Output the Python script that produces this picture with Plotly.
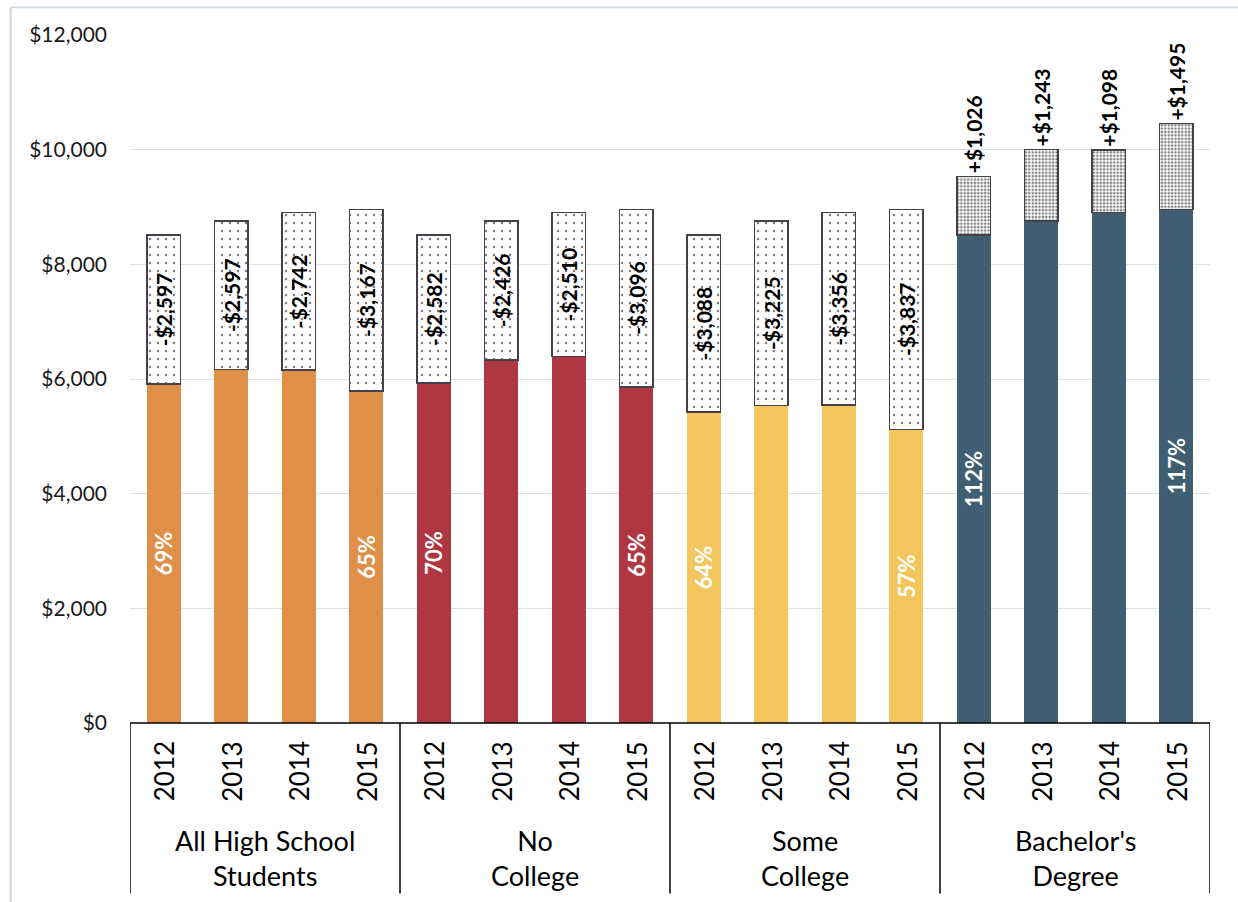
import plotly.graph_objects as go

groups = ["All High School<br>Students", "No<br>College", "Some<br>College", "Bachelor's<br>Degree"]
years = ["2012", "2013", "2014", "2015"]

# Reference mean quarterly earnings (top of the dotted bars for the first three groups)
reference = [8510, 8760, 8900, 8960]

# Gap vs reference (negative) for first three groups, gain (positive) for Bachelor's
gap_all_hs = [-2597, -2597, -2742, -3167]
gap_no_college = [-2582, -2426, -2510, -3096]
gap_some_college = [-3088, -3225, -3356, -3837]
gain_bachelor = [1026, 1243, 1098, 1495]

pct_all_hs = ["69%", "", "", "65%"]
pct_no_college = ["70%", "", "", "65%"]
pct_some_college = ["64%", "", "", "57%"]
pct_bachelor = ["112%", "", "", "117%"]

group_colors = ["#E08F48", "#AF3742", "#F3C65D", "#3F5E72"]

solid, diff, diff_text, pct_text, colors, textpos, pat_size, pat_sol = [], [], [], [], [], [], [], []
gap_lists = [gap_all_hs, gap_no_college, gap_some_college]
pct_lists = [pct_all_hs, pct_no_college, pct_some_college, pct_bachelor]
for g in range(4):
    for i in range(4):
        if g < 3:
            gap = gap_lists[g][i]
            solid.append(reference[i] + gap)
            diff.append(-gap)
            diff_text.append("-${:,}".format(-gap))
            textpos.append("inside")
            pat_size.append(8)
            pat_sol.append(0.08)
        else:
            gain = gain_bachelor[i]
            solid.append(reference[i])
            diff.append(gain)
            diff_text.append("+${:,}".format(gain))
            textpos.append("outside")
            pat_size.append(3.4)
            pat_sol.append(0.45)
        pct_text.append(pct_lists[g][i])
        colors.append(group_colors[g])

xs = list(range(16))
FONT = "Lato"

fig = go.Figure()
fig.add_trace(go.Bar(
    x=xs, y=solid, width=0.5,
    marker=dict(color=colors, line=dict(width=0)),
    text=pct_text, textposition="inside", insidetextanchor="middle",
    textangle=-90, constraintext="none",
    textfont=dict(family=FONT, size=22, color="white", weight="bold"),
    hoverinfo="skip",
))
fig.add_trace(go.Bar(
    x=xs, y=diff, width=0.5,
    marker=dict(color="white", line=dict(color="#45404A", width=1.5),
                pattern=dict(shape=".", fgcolor="black", bgcolor="white",
                             size=pat_size, solidity=pat_sol)),
    text=diff_text, textposition=textpos, insidetextanchor="middle",
    textangle=-90, constraintext="none", cliponaxis=False,
    textfont=dict(family=FONT, size=21, color="black", weight="bold"),
    hoverinfo="skip",
))

shapes = []
# outer frame (light)
shapes.append(dict(type="line", xref="paper", yref="paper", x0=-0.111, x1=1.05, y0=1.0405, y1=1.0405,
                   line=dict(color="#D6DCE5", width=2)))
shapes.append(dict(type="line", xref="paper", yref="paper", x0=-0.1105, x1=-0.1105, y0=1.0405, y1=-0.32,
                   line=dict(color="#D6DCE5", width=2.5)))
# category dividers
for xb in [-0.5, 3.5, 7.5, 11.5, 15.5]:
    shapes.append(dict(type="line", xref="x", yref="paper", x0=xb, x1=xb, y0=0, y1=-0.248,
                       line=dict(color="black", width=1.5)))
# baseline
shapes.append(dict(type="line", xref="x", yref="paper", x0=-0.5, x1=15.5, y0=0, y1=0,
                   line=dict(color="black", width=1.5)))

annotations = []
for g in range(4):
    for i, yr in enumerate(years):
        annotations.append(dict(x=g * 4 + i, y=-0.0705, xref="x", yref="paper", text=yr,
                                showarrow=False, textangle=-90, yanchor="middle", xanchor="center",
                                font=dict(family=FONT, size=26, color="black")))
    annotations.append(dict(x=g * 4 + 1.5, y=-0.1965, xref="x", yref="paper", text=groups[g],
                            showarrow=False, yanchor="middle", xanchor="center",
                            font=dict(family=FONT, size=27, color="black")))

fig.update_layout(
    width=1238, height=902,
    margin=dict(l=130, r=28, t=35, b=179),
    barmode="stack",
    showlegend=False,
    plot_bgcolor="white", paper_bgcolor="white",
    xaxis=dict(range=[-0.5, 15.5], showticklabels=False, showgrid=False, zeroline=False,
               showline=False, ticks=""),
    yaxis=dict(range=[0, 12000], dtick=2000, tickprefix="$", tickformat=",d",
               showgrid=True, gridcolor="#DDE1E8", gridwidth=1, zeroline=False, showline=False,
               ticks="", ticklabelstandoff=22,
               tickfont=dict(family=FONT, size=21, color="#1a1a1a")),
    shapes=shapes,
    annotations=annotations,
    font=dict(family=FONT),
)

fig.write_html("out.html")
